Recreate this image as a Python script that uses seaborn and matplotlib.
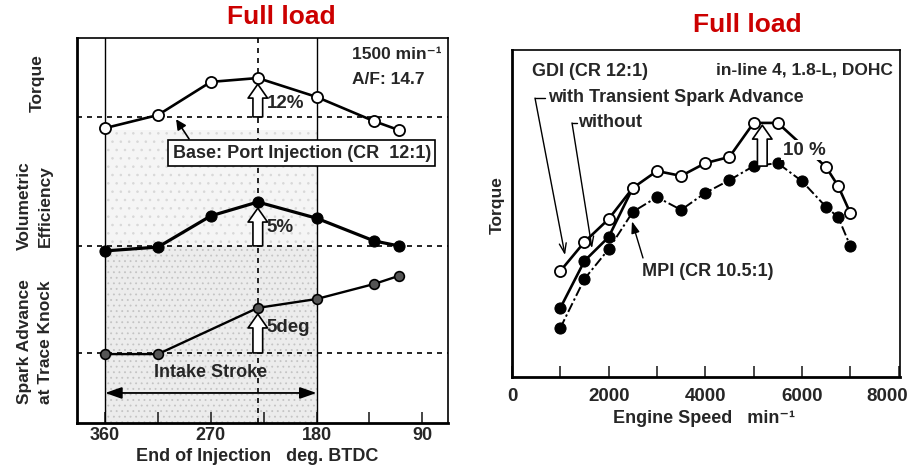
import matplotlib
matplotlib.use("Agg")
import matplotlib.pyplot as plt
import matplotlib.transforms as mtransforms
import seaborn as sns
import pandas as pd

# ---------------- data: left panel (Full load, 1500 min-1) ----------------
eoi_deg = [360, 315, 270, 230, 180, 131, 110]
torque = [76.6, 80.0, 88.6, 89.6, 84.7, 78.4, 76.1]
vol_eff = [44.7, 45.7, 53.8, 57.4, 53.2, 47.3, 46.0]
spark_deg = [360, 315, 230, 180, 131, 110]
spark_adv = [17.9, 17.9, 29.9, 32.2, 36.1, 38.2]
torque_base = 79.5
ve_base = 46.0
spark_base = 18.2
left_ticks = [360, 270, 180, 90]
left_minor = [315, 225, 135]

# ---------------- data: right panel (torque vs engine speed) ----------------
speed_with = [1000, 1500, 2000, 2500, 3000, 3500, 4000, 4500, 5000, 5500, 6500, 6750, 7000]
torque_with = [32.4, 41.3, 48.3, 57.8, 63.0, 61.5, 65.4, 67.3, 77.7, 77.7, 64.2, 58.4, 50.2]
speed_without = [1000, 1500, 2000, 2500]
torque_without = [21.1, 35.5, 42.8, 57.8]
speed_mpi = [1000, 1500, 2000, 2500, 3000, 3500, 4000, 4500, 5000, 5500, 6000, 6500, 6750, 7000]
torque_mpi = [15.0, 30.0, 39.1, 50.5, 55.0, 51.1, 56.3, 60.2, 64.5, 65.4, 59.9, 52.0, 48.9, 40.1]
right_ticks = [0, 2000, 4000, 6000, 8000]
right_minor = [1000, 3000, 5000, 7000]

sns.set_style("white")
plt.rcParams["font.family"] = ["Liberation Sans", "DejaVu Sans"]
plt.rcParams["font.weight"] = "bold"
plt.rcParams["hatch.linewidth"] = 0.6
FS = 13
RED = "#cc0000"

fig = plt.figure(figsize=(9.12, 4.69), dpi=100)
W, H = 912, 469

def ax_rect(x0, y0, x1, y1):
    return [x0 / W, 1 - y1 / H, (x1 - x0) / W, (y1 - y0) / H]

# ======================= LEFT PANEL =======================
axL = fig.add_axes(ax_rect(77, 38, 448, 423))
axL.set_xlim(384, 68)
axL.set_ylim(0, 100)

# stippled intake region
axL.axvspan(180, 360, ymin=0, ymax=0.76, facecolor="#f5f5f5", edgecolor="#d8d8d8",
            hatch="..", lw=0, zorder=0)
axL.axvspan(180, 360, ymin=0, ymax=0.46, facecolor="#ececec", edgecolor="#c4c4c4",
            hatch="...", lw=0, zorder=0)

axL.axvline(360, color="black", lw=1.0, zorder=1)
axL.axvline(180, color="black", lw=1.0, zorder=1)
axL.axvline(230, color="black", lw=1.2, ls=(0, (3, 3)), zorder=1)
for b in (torque_base, ve_base, spark_base):
    axL.axhline(b, color="black", lw=1.2, ls=(0, (3, 3)), zorder=1)

dfT = pd.DataFrame({"deg": eoi_deg, "torque": torque, "ve": vol_eff})
dfS = pd.DataFrame({"deg": spark_deg, "spark": spark_adv})
sns.lineplot(data=dfT, x="deg", y="torque", ax=axL, color="black", lw=1.9,
             marker="o", markersize=8, markerfacecolor="white",
             markeredgecolor="black", markeredgewidth=1.3, zorder=4)
sns.lineplot(data=dfT, x="deg", y="ve", ax=axL, color="black", lw=2.3,
             marker="o", markersize=8, markerfacecolor="black",
             markeredgecolor="black", zorder=4)
sns.lineplot(data=dfS, x="deg", y="spark", ax=axL, color="black", lw=1.7,
             marker="o", markersize=7, markerfacecolor="#555555",
             markeredgecolor="black", markeredgewidth=1.2, zorder=4)

def hollow_arrow(ax, x, y0, y1, ms=10):
    ax.annotate("", xy=(x, y1), xytext=(x, y0),
                arrowprops=dict(arrowstyle="simple,head_width=1.4,head_length=1.0,tail_width=0.7",
                                fc="white", ec="black", lw=1.2,
                                shrinkA=0, shrinkB=0, mutation_scale=ms),
                zorder=3)

hollow_arrow(axL, 230, torque_base, torque[3] - 1.6)
hollow_arrow(axL, 230, ve_base, vol_eff[3] - 1.6)
hollow_arrow(axL, 230, spark_base, spark_adv[2] - 1.6)
axL.text(222.5, 83.0, "12%", fontsize=FS + 0.5, va="center", ha="left", fontweight="bold")
axL.text(222.5, 50.9, "5%", fontsize=FS + 0.5, va="center", ha="left", fontweight="bold")
axL.text(222.5, 24.9, "5deg", fontsize=FS + 0.5, va="center", ha="left", fontweight="bold")

axL.text(150, 95.6, "1500 min\u207b\u00b9", fontsize=FS - 0.5, va="center", ha="left")
axL.text(150, 89.1, "A/F: 14.7", fontsize=FS - 0.5, va="center", ha="left")

axL.text(192.5, 70.1, "Base: Port Injection (CR  12:1)", fontsize=FS, ha="center", va="center",
         bbox=dict(boxstyle="square,pad=0.25", fc="white", ec="black", lw=1.2), zorder=5)
axL.annotate("", xy=(299.6, 78.9), xytext=(288.6, 73.8),
             arrowprops=dict(arrowstyle="-|>,head_width=0.3,head_length=0.6",
                             color="black", lw=1.2, shrinkA=0, shrinkB=0), zorder=5)

axL.annotate("", xy=(180, 7.8), xytext=(360, 7.8),
             arrowprops=dict(arrowstyle="<|-|>,head_width=0.35,head_length=1.0",
                             color="black", lw=1.3, shrinkA=0, shrinkB=0), zorder=3)
axL.text(270, 10.8, "Intake Stroke", fontsize=FS, ha="center", va="bottom")

axL.set_xticks(left_ticks)
axL.set_xticks(left_minor, minor=True)
axL.set_xticklabels([str(t) for t in left_ticks], fontsize=FS, fontweight="bold")
axL.set_yticks([])
axL.tick_params(axis="x", which="both", direction="in", length=8, width=1.2,
                bottom=True, top=False, pad=3)
axL.set_xlabel("")
axL.set_ylabel("")
for s in axL.spines.values():
    s.set_color("black")
    s.set_linewidth(1.2)
axL.spines["bottom"].set_linewidth(2.0)
axL.spines["left"].set_linewidth(2.0)

fig.text(257 / W, 1 - 456 / H, "End of Injection   deg. BTDC", fontsize=FS,
         ha="center", va="center")
fig.text(281 / W, 1 - 17 / H, "Full load", fontsize=19, color=RED,
         ha="center", va="center", fontweight="bold")
fig.text(37 / W, 1 - 83 / H, "Torque", fontsize=FS - 0.5, rotation=90,
         ha="center", va="center")
fig.text(35 / W, 1 - 206 / H, "Volumetric\nEfficiency", fontsize=FS - 0.5, rotation=90,
         ha="center", va="center", multialignment="center", linespacing=1.45)
fig.text(35 / W, 1 - 342 / H, "Spark Advance\nat Trace Knock", fontsize=FS - 0.5, rotation=90,
         ha="center", va="center", multialignment="center", linespacing=1.45)

# ======================= RIGHT PANEL =======================
axR = fig.add_axes(ax_rect(512, 50, 900, 377))
axR.set_xlim(0, 8030)
axR.set_ylim(0, 100)

dfW = pd.DataFrame({"speed": speed_with, "torque": torque_with})
dfN = pd.DataFrame({"speed": speed_without, "torque": torque_without})
dfM = pd.DataFrame({"speed": speed_mpi, "torque": torque_mpi})
sns.lineplot(data=dfM, x="speed", y="torque", ax=axR, color="black", lw=1.4,
             linestyle=(0, (5, 1.5, 1.2, 1.5)), marker="o", markersize=8,
             markerfacecolor="black", markeredgecolor="black", zorder=3)
sns.lineplot(data=dfN, x="speed", y="torque", ax=axR, color="black", lw=1.9,
             marker="o", markersize=8, markerfacecolor="black",
             markeredgecolor="black", zorder=3)
sns.lineplot(data=dfW, x="speed", y="torque", ax=axR, color="black", lw=1.9,
             marker="o", markersize=8, markerfacecolor="white",
             markeredgecolor="black", markeredgewidth=1.3, zorder=4)

hollow_arrow(axR, 5180, 64.5, 77.0)
axR.text(5600, 69.4, "10 %", fontsize=FS + 0.5, ha="left", va="center",
         bbox=dict(boxstyle="square,pad=0.1", fc="white", ec="none"), zorder=5)

axR.text(7885, 93.9, "in-line 4, 1.8-L, DOHC", fontsize=FS - 0.5, ha="right", va="center")
axR.text(414, 93.3, "GDI (CR 12:1)", fontsize=FS, ha="left", va="center")
axR.text(745, 85.6, "with Transient Spark Advance", fontsize=FS, ha="left", va="center")
axR.plot([476, 683], [85.3, 85.3], color="black", lw=1.0)
axR.annotate("", xy=(1097, 37.3), xytext=(476, 85.3),
             arrowprops=dict(arrowstyle="->,head_width=0.25,head_length=0.7",
                             color="black", lw=1.0, shrinkA=0, shrinkB=0))
axR.text(1366, 77.7, "without", fontsize=FS, ha="left", va="center")
axR.plot([1242, 1345], [77.7, 77.7], color="black", lw=1.0)
axR.annotate("", xy=(1656, 39.4), xytext=(1242, 77.7),
             arrowprops=dict(arrowstyle="->,head_width=0.25,head_length=0.7",
                             color="black", lw=1.0, shrinkA=0, shrinkB=0))
axR.text(2690, 32.4, "MPI (CR 10.5:1)", fontsize=FS, ha="left", va="center")
axR.annotate("", xy=(2483, 47.6), xytext=(2711, 36.4),
             arrowprops=dict(arrowstyle="-|>,head_width=0.25,head_length=0.7",
                             color="black", lw=1.0, shrinkA=0, shrinkB=0))

axR.set_xticks(right_ticks)
axR.set_xticks(right_minor, minor=True)
axR.set_xticklabels([str(t) for t in right_ticks], fontsize=FS + 0.5, fontweight="bold")
axR.set_yticks([])
axR.tick_params(axis="x", which="both", direction="in", length=8, width=1.2,
                bottom=True, top=False, pad=8)
# pull the last tick label slightly inwards so it stays inside the canvas
last = axR.get_xticklabels()[-1]
last.set_transform(last.get_transform()
                   + mtransforms.ScaledTranslation(-11 / 100, 0, fig.dpi_scale_trans))
axR.set_xlabel("")
axR.set_ylabel("")
for s in axR.spines.values():
    s.set_color("black")
    s.set_linewidth(1.2)
axR.spines["bottom"].set_linewidth(2.0)
axR.spines["left"].set_linewidth(2.0)

fig.text(704 / W, 1 - 418 / H, "Engine Speed   min\u207b\u00b9", fontsize=FS,
         ha="center", va="center")
fig.text(497 / W, 1 - 205 / H, "Torque", fontsize=FS - 0.5, rotation=90,
         ha="center", va="center")
fig.text(747 / W, 1 - 25 / H, "Full load", fontsize=19, color=RED,
         ha="center", va="center", fontweight="bold")

fig.savefig("out.png", dpi=100, facecolor="white")
